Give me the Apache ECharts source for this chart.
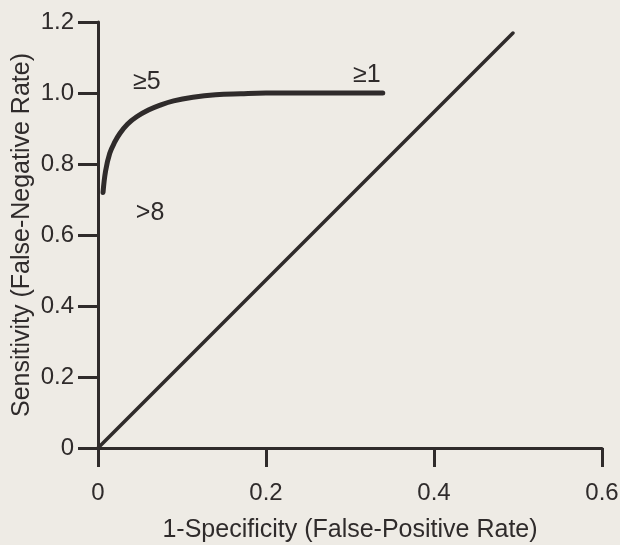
<!DOCTYPE html>
<html>
<head>
<meta charset="utf-8">
<script src="https://cdn.jsdelivr.net/npm/echarts@6/dist/echarts.min.js"></script>
<style>
html,body{margin:0;padding:0;background:#eeebe5;}
#chart{width:620px;height:545px;}
</style>
</head>
<body>
<div id="chart"></div>
<script>
// Axis ticks
const xTicks = [0, 0.2, 0.4, 0.6];
const yTicks = [0, 0.2, 0.4, 0.6, 0.8, 1.0, 1.2];
// ROC curve (1-specificity, sensitivity)
const rocX = [0.006, 0.009, 0.014, 0.020, 0.026, 0.035, 0.046, 0.060, 0.074, 0.090, 0.113, 0.140, 0.170, 0.200, 0.339];
const rocY = [0.720, 0.780, 0.830, 0.862, 0.886, 0.912, 0.933, 0.952, 0.966, 0.978, 0.988, 0.995, 0.998, 1.000, 1.000];
// Chance line
const diagX = [0, 0.494];
const diagY = [0, 1.169];
// Cut-off annotations
const noteText = ['\u22655', '\u22651', '>8'];
const noteX = [0.058, 0.320, 0.062];
const noteY = [1.030, 1.051, 0.662];

const ink = '#2f2b2b';
const font = 'Liberation Sans, Arial, Helvetica, sans-serif';

const chart = echarts.init(document.getElementById('chart'));
chart.setOption({
  backgroundColor: '#eeebe5',
  animation: false,
  grid: {left: 98, right: 18, top: 22, bottom: 97, containLabel: false, outerBoundsMode: 'none'},
  xAxis: {
    type: 'value', min: 0, max: 0.6, interval: 0.2,
    name: '1-Specificity (False-Positive Rate)',
    nameLocation: 'middle', nameGap: 70, nameMoveOverlap: false,
    nameTextStyle: {color: ink, fontSize: 25, fontFamily: font},
    axisLine: {show: true, onZero: false, lineStyle: {color: ink, width: 3}},
    axisTick: {show: true, inside: false, length: 19, lineStyle: {color: ink, width: 3}},
    axisLabel: {color: ink, fontSize: 24, fontFamily: font, margin: 33, hideOverlap: false,
      formatter: v => { const t = xTicks.find(k => Math.abs(k - v) < 1e-9); return t === 0 ? '0' : String(t); }},
    splitLine: {show: false}
  },
  yAxis: {
    type: 'value', min: 0, max: 1.2, interval: 0.2,
    name: 'Sensitivity (False-Negative Rate)',
    nameLocation: 'middle', nameGap: 63, nameRotate: 90, nameMoveOverlap: false,
    nameTextStyle: {color: ink, fontSize: 25, fontFamily: font},
    axisLine: {show: true, onZero: false, lineStyle: {color: ink, width: 3}},
    axisTick: {show: true, inside: false, length: 20, lineStyle: {color: ink, width: 3}},
    axisLabel: {color: ink, fontSize: 24, fontFamily: font, margin: 24,
      formatter: v => { const t = yTicks.find(k => Math.abs(k - v) < 1e-9); return t === 0 ? '0' : t.toFixed(1); }},
    splitLine: {show: false}
  },
  series: [
    {
      type: 'line', data: diagX.map((x, i) => [x, diagY[i]]),
      symbol: 'none', clip: false,
      lineStyle: {color: ink, width: 3.5, cap: 'round'}
    },
    {
      type: 'line', data: rocX.map((x, i) => [x, rocY[i]]),
      symbol: 'none', smooth: 0.4, clip: false,
      lineStyle: {color: ink, width: 5, cap: 'round'}
    },
    {
      type: 'scatter', symbolSize: 0,
      itemStyle: {opacity: 1},
      data: noteX.map((x, i) => ({value: [x, noteY[i]], name: noteText[i]})),
      label: {show: true, position: 'inside', formatter: p => p.name,
        color: ink, fontSize: 25, fontFamily: font}
    }
  ]
});
</script>
</body>
</html>
